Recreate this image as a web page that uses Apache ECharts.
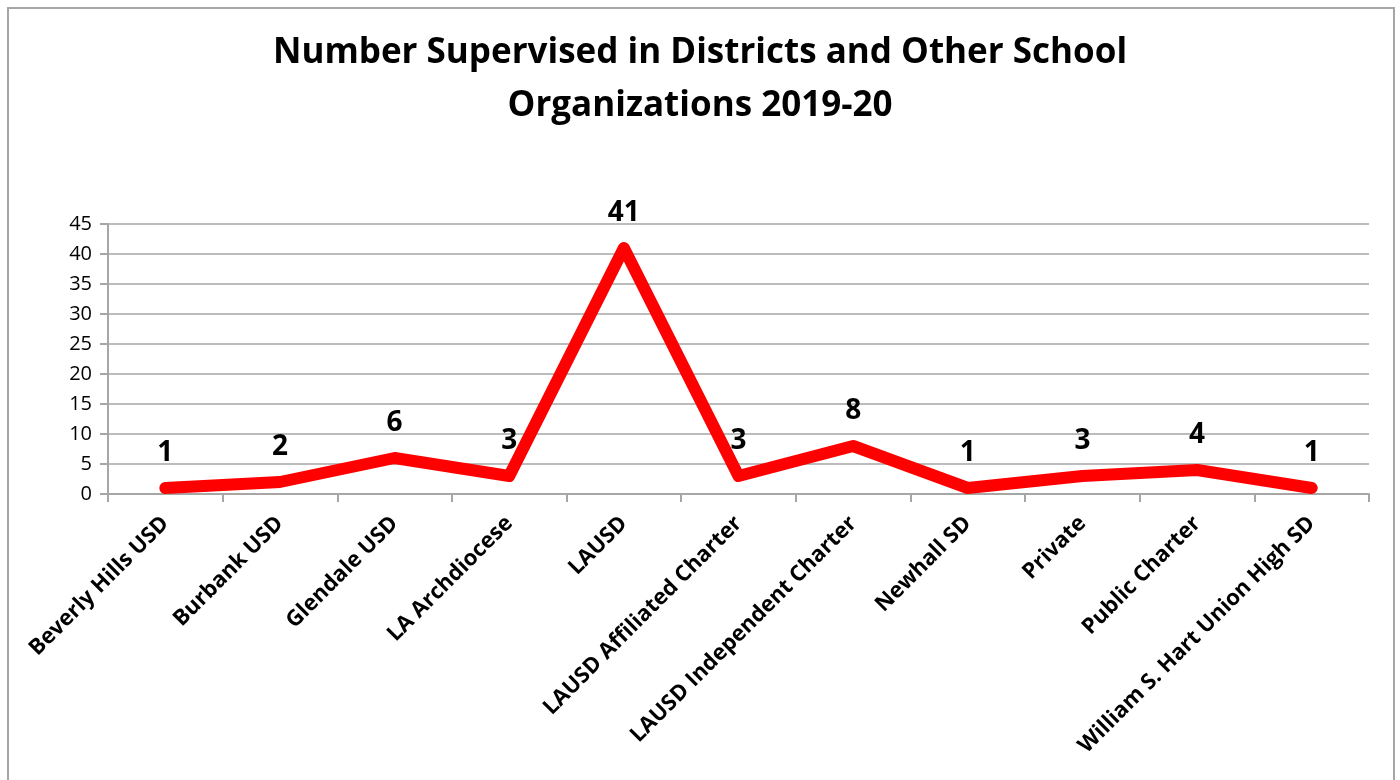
<!DOCTYPE html>
<html>
<head>
<meta charset="utf-8">
<script src="https://cdn.jsdelivr.net/npm/echarts@6/dist/echarts.min.js"></script>
<style>
html,body{margin:0;padding:0;background:#fff;}
#frame{position:absolute;left:7px;top:7px;width:1388px;height:800px;border:2px solid #a6a6a6;box-sizing:border-box;}
#chart{position:absolute;left:0;top:0;width:1400px;height:780px;}
</style>
</head>
<body>
<div id="frame"></div>
<div id="chart"></div>
<script>
var categories = ["Beverly Hills USD","Burbank USD","Glendale USD","LA Archdiocese","LAUSD","LAUSD Affiliated Charter","LAUSD Independent Charter","Newhall SD","Private","Public Charter","William S. Hart Union High SD"];
var values = [1,2,6,3,41,3,8,1,3,4,1];
var titleText = "Number Supervised in Districts and Other School\nOrganizations 2019-20";

var chart = echarts.init(document.getElementById('chart'));
chart.setOption({
  backgroundColor: 'transparent',
  animation: false,
  title: {
    text: titleText,
    left: 'center',
    top: 22,
    textStyle: {fontFamily: 'Open Sans', fontWeight: 'bold', fontSize: 35, lineHeight: 53, color: '#000'}
  },
  grid: {left: 108, right: 31, top: 224, bottom: 286, containLabel: false},
  xAxis: {
    type: 'category',
    data: categories,
    boundaryGap: true,
    axisLine: {lineStyle: {color: '#a6a6a6', width: 2}},
    axisTick: {show: true, length: 8, lineStyle: {color: '#a6a6a6', width: 2}},
    axisLabel: {rotate: 45, interval: 0, margin: 26, fontFamily: 'Open Sans', fontWeight: 'bold', fontSize: 22, color: '#000'}
  },
  yAxis: {
    type: 'value',
    min: 0, max: 45, interval: 5,
    axisLine: {show: true, lineStyle: {color: '#a6a6a6', width: 2}},
    axisTick: {show: true, length: 8, lineStyle: {color: '#a6a6a6', width: 2}},
    splitLine: {lineStyle: {color: '#a6a6a6', width: 1.5}},
    axisLabel: {margin: 16, fontFamily: 'Open Sans', fontSize: 20, color: '#000'}
  },
  series: [{
    type: 'line',
    data: values,
    symbol: 'circle',
    symbolSize: 2,
    showSymbol: true,
    itemStyle: {color: '#ff0000'},
    lineStyle: {color: '#ff0000', width: 12, cap: 'round', join: 'round'},
    label: {show: true, position: 'top', distance: 20, fontFamily: 'Open Sans', fontWeight: 'bold', fontSize: 28, color: '#000'}
  }]
});
</script>
</body>
</html>
